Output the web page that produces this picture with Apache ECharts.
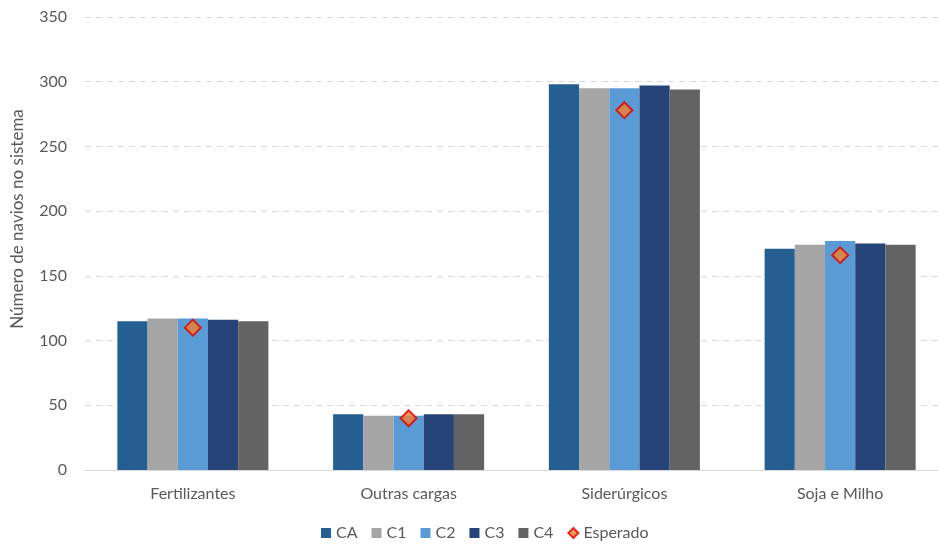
<!DOCTYPE html>
<html>
<head>
<meta charset="utf-8">
<script src="https://cdn.jsdelivr.net/npm/echarts@6/dist/echarts.min.js"></script>
<style>
  html, body { margin: 0; padding: 0; background: #fff; overflow: hidden; }
  #wrap { width: 938px; height: 546px; overflow: hidden; }
  #chart { width: 948px; height: 546px; }
</style>
</head>
<body>
<div id="wrap"><div id="chart"></div></div>
<script>
// Cargo groups along the horizontal axis
const categories = ['Fertilizantes', 'Outras cargas', 'Siderúrgicos', 'Soja e Milho'];

// Ships in the system per scenario
const seriesNames = ['CA', 'C1', 'C2', 'C3', 'C4'];
const valuesCA = [115, 43, 298, 171];
const valuesC1 = [117, 42, 295, 174];
const valuesC2 = [117, 42, 295, 177];
const valuesC3 = [116, 43, 297, 175];
const valuesC4 = [115, 43, 294, 174];
const expected = [110, 40, 278, 166];
const yAxisTitle = 'Número de navios no sistema';

const seriesValues = [valuesCA, valuesC1, valuesC2, valuesC3, valuesC4];
const seriesColors = ['#255E91', '#A5A5A5', '#5B9BD5', '#264478', '#636363'];

const font = 'Lato, "Open Sans", sans-serif';
const chart = echarts.init(document.getElementById('chart'), null, { renderer: 'canvas' });

const barSeries = seriesNames.map((name, i) => ({
  name: name,
  type: 'bar',
  data: seriesValues[i],
  barGap: '0%',
  barCategoryGap: '30%',
  itemStyle: { color: seriesColors[i] },
  emphasis: { disabled: true }
}));

chart.setOption({
  animation: false,
  backgroundColor: '#ffffff',
  textStyle: { fontFamily: font },
  grid: { left: 85, top: 17, right: 0, bottom: 76, containLabel: false },
  graphic: [{
    type: 'text',
    x: 18,
    y: 219,
    rotation: Math.PI / 2,
    style: {
      text: yAxisTitle,
      fill: '#595959',
      font: '17px ' + font,
      textAlign: 'center',
      textVerticalAlign: 'middle'
    }
  }],
  legend: {
    bottom: 0,
    left: 316,
    itemWidth: 10,
    itemHeight: 10,
    itemGap: 14,
    textStyle: { color: '#595959', fontSize: 16, fontFamily: font },
    data: [
      ...seriesNames.map(n => ({ name: n, icon: 'rect' })),
      { name: 'Esperado', icon: 'diamond' }
    ]
  },
  xAxis: {
    type: 'category',
    data: categories,
    axisLine: { lineStyle: { color: '#D9D9D9', width: 1 } },
    axisTick: { show: false },
    axisLabel: { color: '#595959', fontSize: 16, margin: 16, fontFamily: font }
  },
  yAxis: {
    type: 'value',
    min: 0,
    max: 350,
    interval: 50,
    axisLine: { show: false },
    axisTick: { show: false },
    axisLabel: { color: '#595959', fontSize: 16, margin: 18, fontFamily: font },
    splitLine: { lineStyle: { color: '#D9D9D9', type: [6, 5], width: 1 } }
  },
  series: [
    ...barSeries,
    {
      name: 'Esperado',
      type: 'scatter',
      data: expected,
      symbol: 'diamond',
      symbolSize: 16,
      itemStyle: { color: '#F07F2E', borderColor: '#E00000', borderWidth: 2 },
      z: 5
    }
  ]
});
</script>
</body>
</html>
